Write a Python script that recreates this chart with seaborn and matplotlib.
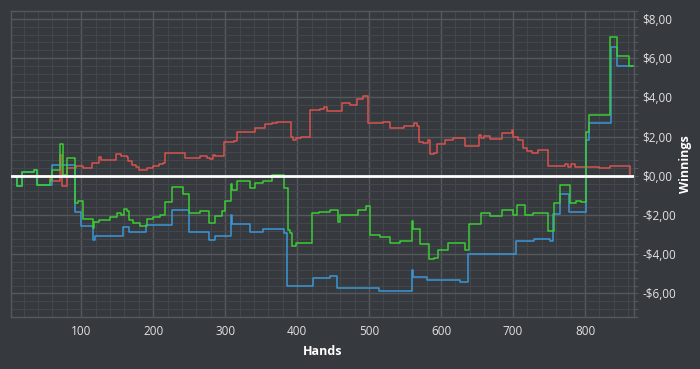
import numpy as np
import pandas as pd
import matplotlib
matplotlib.use('Agg')
import matplotlib.pyplot as plt
from matplotlib.ticker import MultipleLocator, FuncFormatter
import seaborn as sns

# step data: hand where a level starts, and the level ($)
blue_hands = [3, 11, 18, 34, 39, 59, 91, 100, 117, 119, 158, 167, 190, 226, 250, 278, 286,
              308, 310, 335, 352, 382, 386, 422, 445, 455, 514, 559, 561, 581, 626, 638,
              704, 729, 752, 756, 765, 778, 801, 806, 836, 845, 868]
blue_vals = [0.0, -0.54, 0.19, 0.27, -0.46, 0.56, -1.84, -2.54, -3.25, -3.08, -2.62, -2.86,
             -2.52, -1.76, -2.86, -3.28, -3.08, -2.01, -2.44, -2.86, -2.69, -2.9, -5.62,
             -5.23, -5.09, -5.70, -5.87, -4.81, -5.16, -5.31, -5.40, -3.99, -3.33, -3.20,
             -3.35, -1.93, -0.93, -1.86, 1.83, 2.67, 6.56, 5.58, 5.58]

green_hands = [3, 11, 18, 34, 39, 57, 60, 71, 75, 80, 91, 95, 102, 116, 118, 125, 140, 150,
               155, 160, 163, 166, 172, 182, 191, 200, 210, 217, 226, 242, 250, 265, 278,
               286, 295, 300, 308, 310, 316, 335, 342, 353, 365, 382, 387, 390, 393, 399,
               420, 430, 445, 457, 459, 474, 485, 496, 501, 515, 529, 543, 559, 561, 571,
               583, 590, 596, 610, 633, 639, 656, 668, 684, 700, 705, 717, 728, 749, 757,
               765, 779, 787, 794, 801, 806, 835, 844, 861, 868]
green_vals = [0.0, -0.54, 0.19, 0.27, -0.46, -0.2, 0.3, 1.62, 0.02, 0.93, -1.39, -1.3, -2.18,
              -2.66, -2.37, -2.23, -2.1, -1.9, -2.01, -1.69, -1.81, -2.27, -2.4, -2.57, -2.2,
              -2.1, -2.0, -1.35, -0.57, -0.91, -1.9, -1.81, -2.4, -2.06, -1.8, -1.3, -0.4,
              -0.71, -0.29, -0.63, -0.37, -0.25, 0.02, -0.6, -2.74, -2.91, -3.59, -3.42,
              -1.9, -1.85, -1.75, -2.37, -1.99, -2.0, -1.75, -1.56, -3.03, -3.1, -3.45,
              -3.33, -2.32, -2.7, -3.5, -4.26, -4.2, -3.76, -3.42, -3.8, -2.45, -1.9, -2.05,
              -1.75, -2.0, -1.5, -2.0, -1.9, -2.83, -1.39, -0.46, -1.4, -1.3, -1.35, 2.25,
              3.1, 7.07, 6.09, 5.6, 5.6]

red_hands = [3, 57, 70, 74, 81, 93, 103, 115, 125, 127, 149, 156, 163, 165, 170, 176, 180,
             191, 200, 208, 214, 217, 232, 242, 244, 265, 275, 279, 283, 286, 298, 312, 317,
             330, 341, 350, 356, 365, 372, 392, 394, 398, 405, 418, 432, 438, 441, 462, 474,
             483, 488, 492, 499, 520, 529, 548, 563, 566, 569, 575, 582, 585, 590, 594, 606,
             617, 633, 653, 656, 660, 668, 684, 698, 700, 707, 714, 719, 726, 735, 748, 768,
             772, 776, 781, 786, 820, 834, 862, 868]
red_vals = [0.0, -0.26, 1.06, -0.54, 0.39, 0.52, 0.39, 0.67, 0.98, 0.78, 1.1, 1.0, 0.95, 0.73,
            0.55, 0.45, 0.3, 0.42, 0.5, 0.6, 0.67, 1.15, 1.18, 1.15, 0.9, 1.0, 0.9, 0.85, 1.05,
            1.03, 1.74, 1.76, 2.22, 2.25, 2.42, 2.45, 2.65, 2.71, 2.76, 2.0, 1.85, 1.95, 2.0,
            3.35, 3.4, 3.52, 3.3, 3.69, 3.6, 3.94, 3.9, 4.06, 2.67, 2.75, 2.45, 2.54, 2.67,
            2.54, 1.74, 1.66, 1.83, 1.1, 1.15, 1.62, 1.83, 1.95, 1.52, 2.08, 1.95, 2.03, 1.86,
            2.17, 2.34, 2.0, 1.83, 1.4, 1.24, 1.15, 1.32, 0.51, 0.5, 0.62, 0.45, 0.58, 0.46,
            0.4, 0.52, 0.0, 0.0]

bg = '#36393d'
major_c = '#55585c'
minor_c = '#43464a'
txt = '#e2e2e2'

sns.set_style('dark')
plt.rcParams['font.family'] = ['Open Sans', 'DejaVu Sans']
fig = plt.figure(figsize=(7, 3.69), dpi=100, facecolor=bg)
ax = fig.add_axes([0.0157, 0.141, 0.8900, 0.829])
ax.set_facecolor(bg)

sns.lineplot(x=red_hands, y=red_vals, color='#d9534f', lw=1.1, drawstyle='steps-post', ax=ax)
sns.lineplot(x=blue_hands, y=blue_vals, color='#3a96d8', lw=1.1, drawstyle='steps-post', ax=ax)
sns.lineplot(x=green_hands, y=green_vals, color='#3acc35', lw=1.1, drawstyle='steps-post', ax=ax)
ax.axhline(0, color='white', lw=2, zorder=5)

ax.set_xlim(2.5, 868)
ax.set_ylim(-7.2, 8.4)
ax.xaxis.set_major_locator(MultipleLocator(100))
ax.xaxis.set_minor_locator(MultipleLocator(20))
ax.yaxis.set_major_locator(MultipleLocator(2))
ax.yaxis.set_minor_locator(MultipleLocator(0.4))

def money(v, pos):
    s = '-' if v < -1e-9 else ''
    return s + '$' + f'{abs(v):.2f}'.replace('.', ',')

ax.yaxis.set_major_formatter(FuncFormatter(money))
ax.yaxis.tick_right()
ax.yaxis.set_label_position('right')

ax.grid(True, which='major', color=major_c, lw=1)
ax.grid(True, which='minor', color=minor_c, lw=0.8)
ax.set_axisbelow(True)
for sp in ax.spines.values():
    sp.set_visible(True)
    sp.set_color(major_c)
    sp.set_linewidth(1)

ax.tick_params(axis='both', which='both', colors=major_c, labelcolor=txt, labelsize=8.5,
               length=3, width=0.8, direction='out', pad=3)

ax.set_xlabel('Hands', color='white', fontsize=9, fontweight='bold', labelpad=5)
ax.set_ylabel('Winnings', color='white', fontsize=9, fontweight='bold', labelpad=2)

fig.savefig('out.png', dpi=100, facecolor=bg)
